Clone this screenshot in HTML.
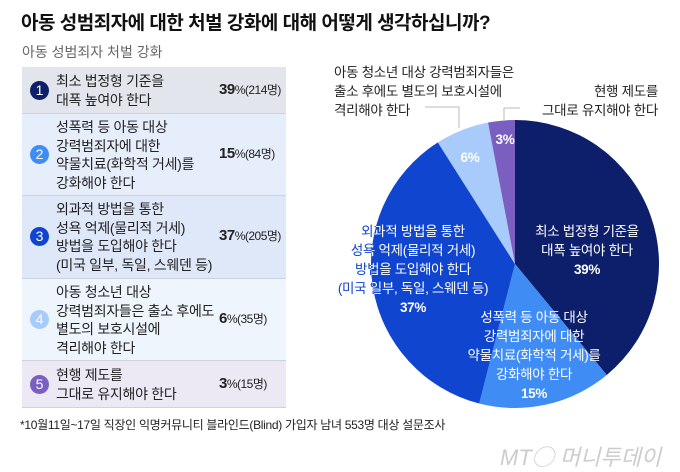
<!DOCTYPE html>
<html><head><meta charset="utf-8"><style>
body{margin:0;width:680px;height:472px;background:#fff;font-family:"Liberation Sans","Noto Sans CJK KR",sans-serif;position:relative;overflow:hidden;color:#222}
.abs{position:absolute}
#title{left:21px;top:8px;font-size:19px;font-weight:bold;color:#111;letter-spacing:-0.5px}
#sub{left:22px;top:42px;font-size:14px;color:#666}
.row{position:absolute;left:22px;width:264px;border-bottom:1px solid #cdd2dc}
.num{position:absolute;left:8px;width:19px;height:19px;border-radius:50%;color:#fff;font-size:14px;text-align:center;line-height:19px}
.txt{position:absolute;left:34px;font-size:14px;line-height:18.5px;color:#222;letter-spacing:-0.3px}
.val{position:absolute;left:197px;font-size:12px;color:#222;letter-spacing:-0.5px}
.val b{font-size:15px}
#foot{left:20px;top:416px;font-size:12px;color:#222;letter-spacing:-0.3px}
#logo{left:500px;top:440px;font-size:22px;color:#ccc;font-style:italic;letter-spacing:0px}
</style></head><body>
<div id="title" class="abs">아동 성범죄자에 대한 처벌 강화에 대해 어떻게 생각하십니까?</div>
<div id="sub" class="abs">아동 성범죄자 처벌 강화</div>

<div class="row" style="top:67px;height:46px;background:#e3e5ec">
<div class="num" style="top:14px;background:#0d1f6b">1</div>
<div class="txt" style="top:5px">최소 법정형 기준을<br>대폭 높여야 한다</div>
<div class="val" style="top:14px"><b>39</b>%(214명)</div></div>

<div class="row" style="top:114px;height:81px;background:#e7eefb">
<div class="num" style="top:31px;background:#3f8cf5">2</div>
<div class="txt" style="top:4px">성폭력 등 아동 대상<br>강력범죄자에 대한<br>약물치료(화학적 거세)를<br>강화해야 한다</div>
<div class="val" style="top:31px"><b>15</b>%(84명)</div></div>

<div class="row" style="top:196px;height:82px;background:#dfe8f8">
<div class="num" style="top:31px;background:#1045d0">3</div>
<div class="txt" style="top:4px">외과적 방법을 통한<br>성욕 억제(물리적 거세)<br>방법을 도입해야 한다<br>(미국 일부, 독일, 스웨덴 등)</div>
<div class="val" style="top:31px"><b>37</b>%(205명)</div></div>

<div class="row" style="top:279px;height:81px;background:#eef5fd">
<div class="num" style="top:31px;background:#a9cbfb">4</div>
<div class="txt" style="top:4px">아동 청소년 대상<br>강력범죄자들은 출소 후에도<br>별도의 보호시설에<br>격리해야 한다</div>
<div class="val" style="top:31px"><b>6</b>%(35명)</div></div>

<div class="row" style="top:361px;height:46px;background:#ece8f4">
<div class="num" style="top:14px;background:#7b5fc0">5</div>
<div class="txt" style="top:5px">현행 제도를<br>그대로 유지해야 한다</div>
<div class="val" style="top:14px"><b>3</b>%(15명)</div></div>

<div id="foot" class="abs">*10월11일~17일 직장인 익명커뮤니티 블라인드(Blind) 가입자 남녀 553명 대상 설문조사</div>
<div id="logo" class="abs">MT◯ 머니투데이</div>

<svg class="abs" style="left:0;top:0" width="680" height="472">
<defs><clipPath id="pieclip"><circle cx="515" cy="264" r="144"/></clipPath></defs>
<g id="slices"></g>
<g id="ann" font-family="Liberation Sans, Noto Sans CJK KR, sans-serif" font-size="13.5" letter-spacing="-0.3">
<polyline points="425,107 459,107 459,128" fill="none" stroke="#bbb"/>
<polyline points="504,120 504,108 520,108" fill="none" stroke="#bbb"/>
<text x="334" y="77" fill="#222"><tspan x="334">아동 청소년 대상 강력범죄자들은</tspan><tspan x="334" dy="19">출소 후에도 별도의 보호시설에</tspan><tspan x="334" dy="19">격리해야 한다</tspan></text>
<text x="658" y="96" fill="#222" text-anchor="end"><tspan x="658">현행 제도를</tspan><tspan x="658" dy="19">그대로 유지해야 한다</tspan></text>
<text x="587" y="236" fill="#fff" text-anchor="middle"><tspan x="587">최소 법정형 기준을</tspan><tspan x="587" dy="19">대폭 높여야 한다</tspan><tspan x="587" dy="19" font-weight="bold">39%</tspan></text>
<text x="534" y="322" fill="#fff" text-anchor="middle"><tspan x="534">성폭력 등 아동 대상</tspan><tspan x="534" dy="19">강력범죄자에 대한</tspan><tspan x="534" dy="19">약물치료(화학적 거세)를</tspan><tspan x="534" dy="19">강화해야 한다</tspan><tspan x="534" dy="19" font-weight="bold">15%</tspan></text>
<text x="413" y="236" fill="#1045d0" text-anchor="middle"><tspan x="413">외과적 방법을 통한</tspan><tspan x="413" dy="19">성욕 억제(물리적 거세)</tspan><tspan x="413" dy="19">방법을 도입해야 한다</tspan><tspan x="413" dy="19">(미국 일부, 독일, 스웨덴 등)</tspan><tspan x="413" dy="19" font-weight="bold">37%</tspan></text>
<text x="413" y="236" fill="#fff" text-anchor="middle" clip-path="url(#pieclip)"><tspan x="413">외과적 방법을 통한</tspan><tspan x="413" dy="19">성욕 억제(물리적 거세)</tspan><tspan x="413" dy="19">방법을 도입해야 한다</tspan><tspan x="413" dy="19">(미국 일부, 독일, 스웨덴 등)</tspan><tspan x="413" dy="19" font-weight="bold">37%</tspan></text>
<text x="470" y="162" fill="#fff" font-weight="bold" text-anchor="middle">6%</text>
<text x="505" y="144" fill="#fff" font-weight="bold" text-anchor="middle">3%</text>
</g>
</svg>
<script>
const categories=["최소 법정형 기준 상향","약물치료 강화","물리적 거세 도입","보호시설 격리","현행 유지"];
const values=[39,15,37,6,3];
const colors=["#0d1f6b","#3f8cf5","#1045d0","#a9cbfb","#7b5fc0"];
const cx=515,cy=264,r=144;
const g=document.getElementById('slices');
const total=values.reduce((a,b)=>a+b,0);
let a0=0;
values.forEach((v,i)=>{
  const a1=a0+v/total*Math.PI*2;
  const x0=cx+r*Math.sin(a0),y0=cy-r*Math.cos(a0),x1=cx+r*Math.sin(a1),y1=cy-r*Math.cos(a1);
  const p=document.createElementNS('http://www.w3.org/2000/svg','path');
  p.setAttribute('d',`M${cx},${cy}L${x0},${y0}A${r},${r} 0 ${a1-a0>Math.PI?1:0} 1 ${x1},${y1}Z`);
  p.setAttribute('fill',colors[i]);
  
  
  g.appendChild(p);
  a0=a1;
});
</script>
</body></html>
